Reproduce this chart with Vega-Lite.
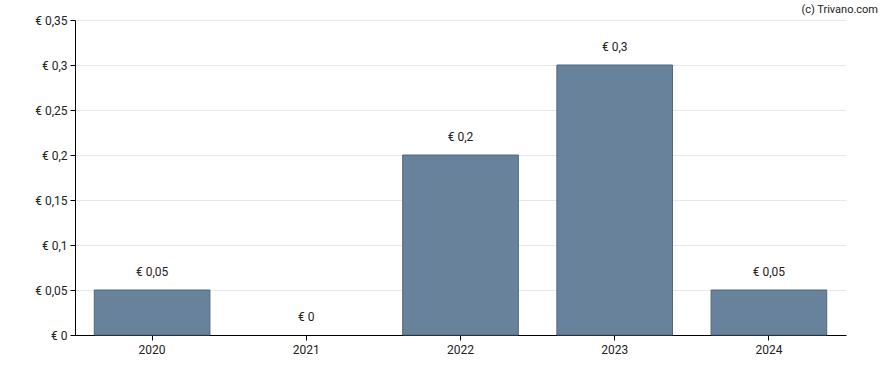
{
  "$schema": "https://vega.github.io/schema/vega-lite/v6.json",
  "autosize": "none",
  "width": 771,
  "height": 315,
  "padding": {"left": 75, "top": 20, "right": 42, "bottom": 35},
  "background": "white",
  "config": {"view": {"stroke": null}, "font": "Roboto"},
  "title": {"text": "(c) Trivano.com", "anchor": "end", "frame": "group", "dx": 32, "offset": -1, "fontSize": 11, "fontWeight": "normal", "color": "#222222", "font": "Roboto"},
  "data": {"values": [
    {"year": "2020", "value": 0.05},
    {"year": "2021", "value": 0},
    {"year": "2022", "value": 0.2},
    {"year": "2023", "value": 0.3},
    {"year": "2024", "value": 0.05}
  ]},
  "encoding": {
    "x": {"field": "year", "type": "nominal", "title": null,
      "scale": {"paddingInner": 0.25, "paddingOuter": 0.125},
      "axis": {"labelAngle": 0, "domainColor": "#000000", "tickColor": "#000000", "tickSize": 5, "labelFontSize": 12, "labelColor": "#222222", "labelPadding": 4, "labelFont": "Roboto"}},
    "y": {"field": "value", "type": "quantitative", "title": null,
      "scale": {"domain": [0, 0.35]},
      "axis": {"values": [0, 0.05, 0.1, 0.15, 0.2, 0.25, 0.3, 0.35],
        "labelExpr": "'€ ' + replace(format(datum.value, '~g'), '.', ',')",
        "domainColor": "#000000", "tickColor": "#000000", "tickSize": 5, "gridColor": "#e8e8e8",
        "labelFontSize": 12, "labelColor": "#222222", "labelPadding": 3, "labelFont": "Roboto"}}
  },
  "layer": [
    {"mark": {"type": "bar", "color": "#67829a", "stroke": "#4d6780", "strokeWidth": 1},
      "encoding": {"strokeOpacity": {"condition": {"test": "datum.value > 0", "value": 1}, "value": 0}}},
    {"mark": {"type": "text", "baseline": "bottom", "dy": -11, "fontSize": 12, "color": "#222222", "font": "Roboto"},
      "encoding": {"text": {"field": "label", "type": "nominal"}},
      "transform": [{"calculate": "'€ ' + replace(format(datum.value, '~g'), '.', ',')", "as": "label"}]
    }
  ]
}
